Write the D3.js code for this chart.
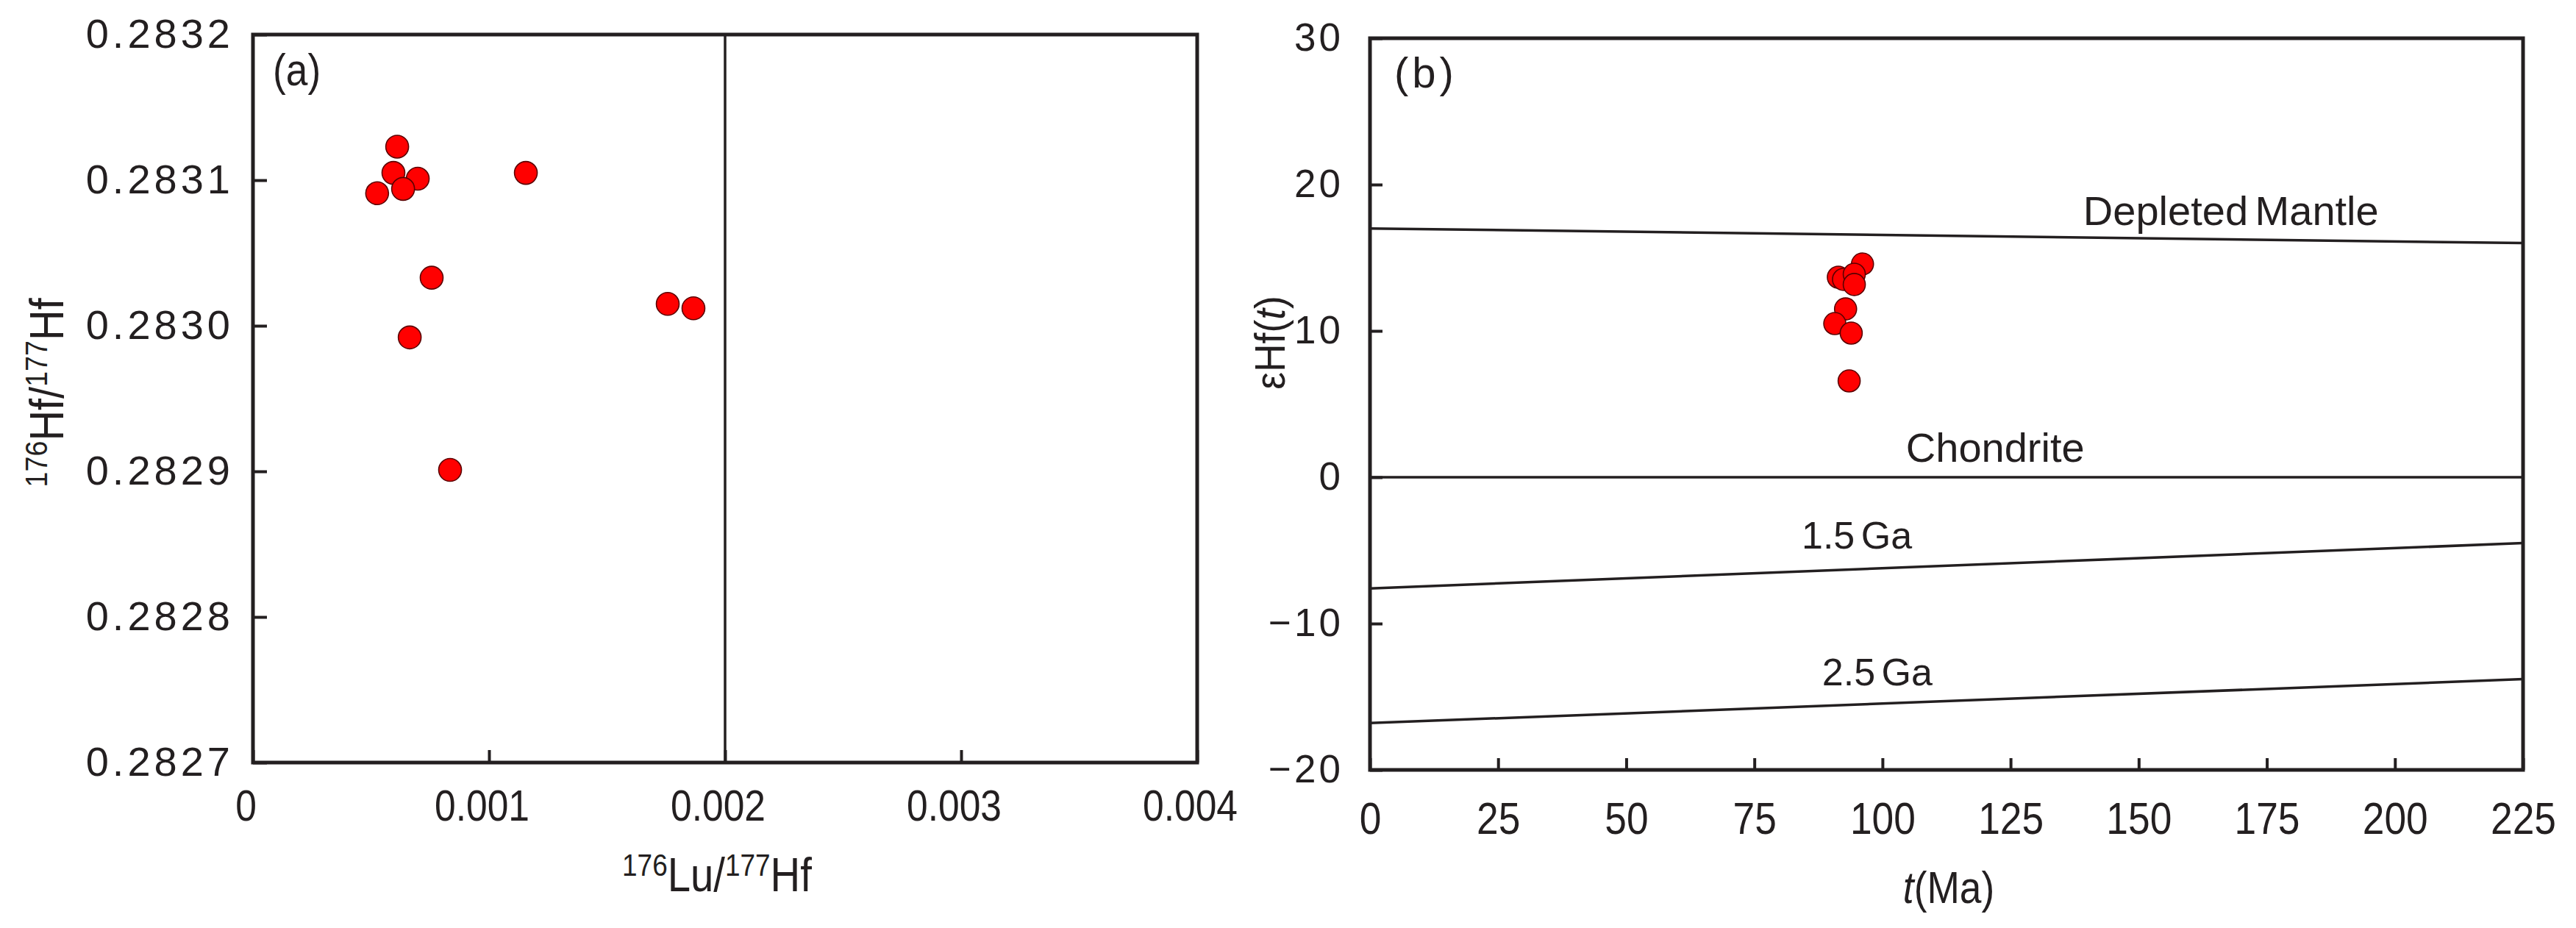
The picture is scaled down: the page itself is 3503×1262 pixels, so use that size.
<!DOCTYPE html>
<html>
<head>
<meta charset="utf-8">
<script src="https://cdn.jsdelivr.net/npm/d3@7"></script>
<style>
  body { margin: 0; background: #fff; }
  text { font-family: "Liberation Sans", Arial, sans-serif; fill: #231f20; }
</style>
</head>
<body>
<div id="app"></div>
<script>
// (a) 176Lu/177Hf vs 176Hf/177Hf
let luHf = [0.000611, 0.000595, 0.000698, 0.000636, 0.000526, 0.001156, 0.000757, 0.001757, 0.001866, 0.000664, 0.000835]
let hfHf = [0.283123, 0.283105, 0.283101, 0.283094, 0.283091, 0.283105, 0.283033, 0.283015, 0.283012, 0.282992, 0.282901]
let xTicksA = [0, 0.001, 0.002, 0.003, 0.004]
let yTicksA = [0.2827, 0.2828, 0.2829, 0.2830, 0.2831, 0.2832]

// (b) t(Ma) vs eHf(t)
let ageMa = [96.1, 91.4, 92.4, 94.5, 94.5, 92.8, 90.7, 93.9, 93.5]
let epsHf = [14.57, 13.67, 13.52, 13.87, 13.17, 11.5, 10.5, 9.85, 6.58]
let xTicksB = [0, 25, 50, 75, 100, 125, 150, 175, 200, 225]
let yTicksB = [-20, -10, 0, 10, 20, 30]

// reference evolution lines, value at t = 0 and t = 225 Ma
let refNames = ["Depleted Mantle", "Chondrite", "1.5 Ga", "2.5 Ga"]
let refAt0 = [17.0, 0, -7.6, -16.8]
let refAt225 = [16.0, 0, -4.5, -13.8]

let ink = "#231f20"
let dotFill = "#ff0000"
let dotStroke = "#5a0000"
let narrow = "scale(0.86,1)"

let svg = d3.select("#app").append("svg")
    .attr("width", 3503)
    .attr("height", 1262)

svg.append("rect").attr("width", 3503).attr("height", 1262).attr("fill", "#fff")

// ---------- panel (a) ----------
let xA = d3.scaleLinear().domain([0, 0.004]).range([344, 1628])
let yA = d3.scaleLinear().domain([0.2827, 0.2832]).range([1037, 47])

let gA = svg.append("g")

gA.append("g")
    .attr("transform", "translate(0,1037)")
    .call(d3.axisBottom(xA).tickValues(xTicksA).tickSize(-17).tickPadding(36)
        .tickFormat(d => d === 0 ? "0" : d3.format(".3f")(d)))
    .call(styleAxis, 60, 0)
    .call(g => g.selectAll(".tick text").attr("transform", "translate(-10,0) " + narrow))

gA.append("g")
    .attr("transform", "translate(344,0)")
    .call(d3.axisLeft(yA).tickValues(yTicksA).tickSize(-19).tickPadding(26)
        .tickFormat(d3.format(".4f")))
    .call(styleAxis, 56, 5)

// vertical line at 0.002
gA.append("line")
    .attr("x1", xA(0.002)).attr("x2", xA(0.002))
    .attr("y1", yA(0.2827)).attr("y2", yA(0.2832))
    .attr("stroke", ink).attr("stroke-width", 3.5)

gA.append("rect")
    .attr("x", xA(0)).attr("y", yA(0.2832))
    .attr("width", xA(0.004) - xA(0)).attr("height", yA(0.2827) - yA(0.2832))
    .attr("fill", "none").attr("stroke", ink).attr("stroke-width", 5)

gA.selectAll("circle")
    .data(d3.zip(luHf, hfHf))
    .enter().append("circle")
    .attr("cx", d => xA(d[0]))
    .attr("cy", d => yA(d[1]))
    .attr("r", 15.5)
    .attr("fill", dotFill)
    .attr("stroke", dotStroke)
    .attr("stroke-width", 1.6)

gA.append("text").attr("transform", "translate(371,116) " + narrow)
    .attr("font-size", 62).text("(a)")

// axis titles with superscripts
let titleAX = gA.append("text").attr("transform", "translate(975,1212) scale(0.88,1)")
    .attr("text-anchor", "middle").attr("font-size", 64)
titleAX.append("tspan").attr("font-size", 42).attr("dy", -21).text("176")
titleAX.append("tspan").attr("dy", 21).text("Lu/")
titleAX.append("tspan").attr("font-size", 42).attr("dy", -21).text("177")
titleAX.append("tspan").attr("dy", 21).text("Hf")

let titleAY = gA.append("text").attr("transform", "translate(86,534) rotate(-90) scale(0.9,1)")
    .attr("text-anchor", "middle").attr("font-size", 64)
titleAY.append("tspan").attr("font-size", 42).attr("dy", -22).text("176")
titleAY.append("tspan").attr("dy", 22).text("Hf/")
titleAY.append("tspan").attr("font-size", 42).attr("dy", -22).text("177")
titleAY.append("tspan").attr("dy", 22).text("Hf")

// ---------- panel (b) ----------
let xB = d3.scaleLinear().domain([0, 225]).range([1863, 3431])
let yB = d3.scaleLinear().domain([-20, 30]).range([1047, 52])

let gB = svg.append("g")

gB.append("g")
    .attr("transform", "translate(0,1047)")
    .call(d3.axisBottom(xB).tickValues(xTicksB).tickSize(-16).tickPadding(43))
    .call(styleAxis, 62, 0)
    .call(g => g.selectAll(".tick text").attr("transform", narrow))

gB.append("g")
    .attr("transform", "translate(1863,0)")
    .call(d3.axisLeft(yB).tickValues(yTicksB).tickSize(-17).tickPadding(36))
    .call(styleAxis, 53, 4)

let refLine = d3.line().x(d => xB(d[0])).y(d => yB(d[1]))

gB.selectAll(".ref")
    .data(refNames.map((n, i) => [[0, refAt0[i]], [225, refAt225[i]]]))
    .enter().append("path")
    .attr("class", "ref")
    .attr("d", refLine)
    .attr("fill", "none")
    .attr("stroke", ink)
    .attr("stroke-width", 3.5)

// label anchor (age along the line), lift above it, size
let labelAge = [168, 122, 95, 99]
let labelLift = [20, 21, 28, 25]
let labelSize = [56, 56, 52, 52]
gB.selectAll(".refLabel")
    .data(refNames)
    .enter().append("text")
    .attr("class", "refLabel")
    .attr("x", (d, i) => xB(labelAge[i]))
    .attr("y", (d, i) => yB(refAt0[i] + (refAt225[i] - refAt0[i]) * labelAge[i] / 225) - labelLift[i])
    .attr("text-anchor", "middle")
    .attr("font-size", (d, i) => labelSize[i])
    .attr("word-spacing", -6)
    .text(d => d)

gB.append("rect")
    .attr("x", xB(0)).attr("y", yB(30))
    .attr("width", xB(225) - xB(0)).attr("height", yB(-20) - yB(30))
    .attr("fill", "none").attr("stroke", ink).attr("stroke-width", 5)

gB.selectAll("circle")
    .data(d3.zip(ageMa, epsHf))
    .enter().append("circle")
    .attr("cx", d => xB(d[0]))
    .attr("cy", d => yB(d[1]))
    .attr("r", 15)
    .attr("fill", dotFill)
    .attr("stroke", dotStroke)
    .attr("stroke-width", 1.6)

gB.append("text").attr("x", 1896).attr("y", 119)
    .attr("font-size", 58).attr("letter-spacing", 5).text("(b)")

let titleBX = gB.append("text").attr("transform", "translate(2650,1228) " + narrow)
    .attr("text-anchor", "middle").attr("font-size", 62)
titleBX.append("tspan").attr("font-style", "italic").text("t")
titleBX.append("tspan").text("(Ma)")

let titleBY = gB.append("text").attr("transform", "translate(1747,466) rotate(-90) scale(0.92,1)")
    .attr("text-anchor", "middle").attr("font-size", 58)
titleBY.append("tspan").text("εHf(")
titleBY.append("tspan").attr("font-style", "italic").text("t")
titleBY.append("tspan").text(")")

function styleAxis(g, size, spacing) {
    g.select(".domain").remove()
    g.attr("font-family", null).attr("font-size", null)
    g.selectAll(".tick line").attr("stroke", ink).attr("stroke-width", 4)
    g.selectAll(".tick text")
        .attr("font-size", size)
        .attr("letter-spacing", spacing)
        .attr("fill", ink)
}
</script>
</body>
</html>
